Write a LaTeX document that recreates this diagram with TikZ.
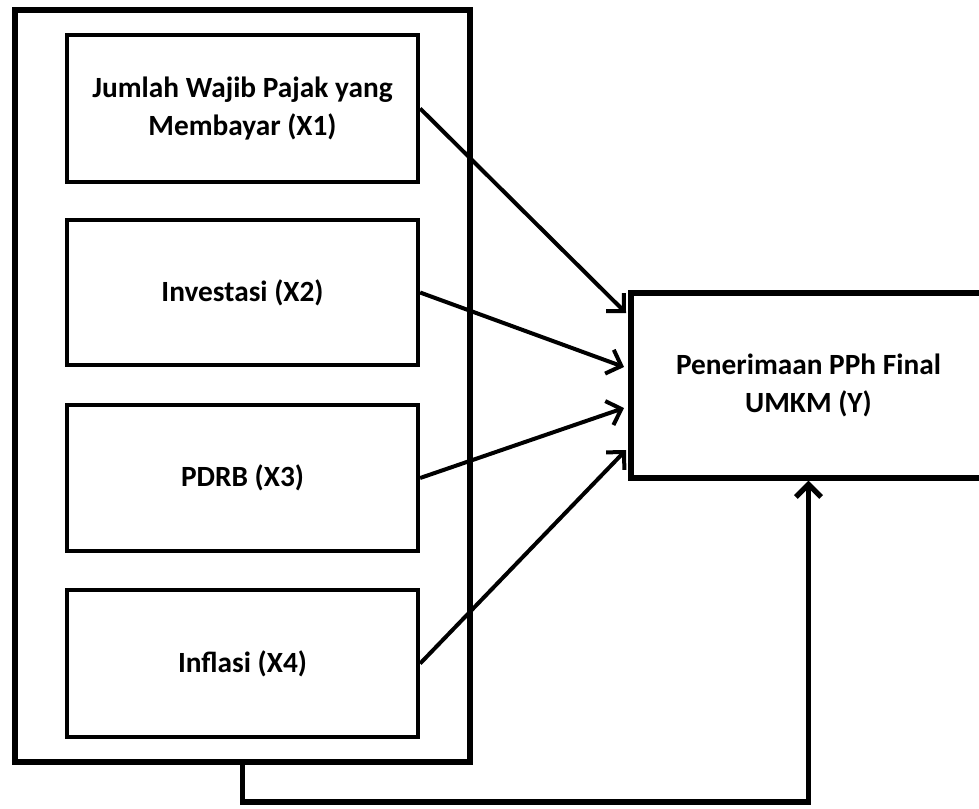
\documentclass[tikz,border=0pt]{standalone}
\usepackage{fontspec}
\setmainfont{Carlito}
\usetikzlibrary{arrows.meta}
\tikzset{
  varbox/.style={draw, line width=3.2pt, minimum width=263.25pt, align=center,
    font=\bfseries\fontsize{22}{28}\selectfont, inner sep=0pt},
  outerbox/.style={draw, line width=4.1pt, minimum width=341.25pt, minimum height=564pt, inner sep=0pt},
  ybox/.style={draw, line width=3.8pt, minimum width=266.25pt, minimum height=138.75pt, align=center,
    font=\bfseries\fontsize{22}{28}\selectfont, inner sep=0pt},
  arr/.style={line width=3pt, -{Straight Barb[length=9.5pt,width=19pt]}},
  conn/.style={line width=4pt}
}
\begin{document}
\begin{tikzpicture}[x=0.75pt,y=-0.75pt]
\useasboundingbox (0,0) rectangle (979,808);
\node[outerbox] (outer) at (242.5,386) {};
\node[varbox, minimum height=110.25pt] (x1) at (242.5,108.5) {Jumlah Wajib Pajak yang\\Membayar (X1)};
\node[varbox, minimum height=108.75pt] (x2) at (242.5,292.5) {Investasi (X2)};
\node[varbox, minimum height=109.5pt] (x3) at (242.5,478) {PDRB (X3)};
\node[varbox, minimum height=110.25pt] (x4) at (242.5,663.5) {Inflasi (X4)};
\node[ybox] (y) at (808.5,385.5) {Penerimaan PPh Final\\UMKM (Y)};
\coordinate (t1) at (626,313);
\coordinate (t2) at (624,367);
\coordinate (t3) at (624,408);
\coordinate (t4) at (626,450);
\coordinate (b1) at (242.5,802);
\draw[arr] (x1.east) -- (t1);
\draw[arr] (x2.east) -- (t2);
\draw[arr] (x3.east) -- (t3);
\draw[arr] (x4.east) -- (t4);
\draw[conn, -{Straight Barb[length=9.5pt,width=19pt]}] (outer.south) -- (b1) -| (y.south);
\end{tikzpicture}
\end{document}
